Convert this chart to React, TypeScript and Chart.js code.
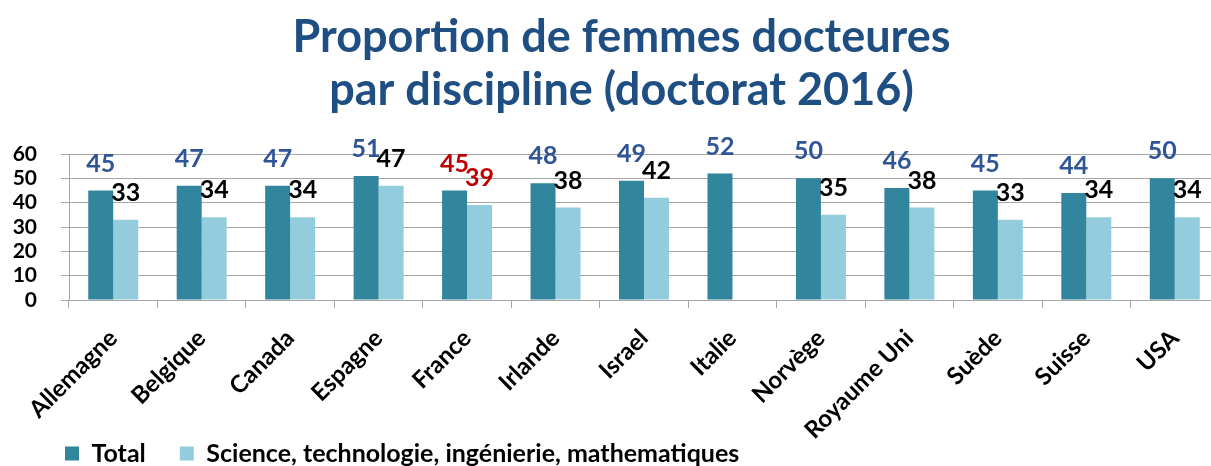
import React, { useEffect, useRef } from "react";
import { Chart, registerables } from "chart.js";

Chart.register(...registerables);

const categories = [
  "Allemagne",
  "Belgique",
  "Canada",
  "Espagne",
  "France",
  "Irlande",
  "Israel",
  "Italie",
  "Norvège",
  "Royaume Uni",
  "Suède",
  "Suisse",
  "USA",
];
const totalValues = [45, 47, 47, 51, 45, 48, 49, 52, 50, 46, 45, 44, 50];
const stemValues = [33, 34, 34, 47, 39, 38, 42, null, 35, 38, 33, 34, 34];
const yMin = 0;
const yMax = 60;
const yStep = 10;
const titleLines = ["Proportion de femmes docteures", "par discipline (doctorat 2016)"];
const seriesNames = ["Total", "Science, technologie, ingénierie, mathematiques"];
const highlightedCategory = "France";

const FONT = "Lato, 'Open Sans', sans-serif";
const GRID = "#A6A6A6";

const valueLabels = {
  id: "valueLabels",
  afterDatasetsDraw(chart: any) {
    const ctx = chart.ctx;
    ctx.save();
    ctx.font = `bold 25px ${FONT}`;
    ctx.textAlign = "center";
    ctx.textBaseline = "middle";
    chart.data.datasets.forEach((ds: any, di: number) => {
      const meta = chart.getDatasetMeta(di);
      meta.data.forEach((bar: any, i: number) => {
        const v = ds.data[i];
        if (v == null) return;
        const hl = categories[i] === highlightedCategory;
        ctx.fillStyle = hl ? "#C00000" : di === 0 ? "#2F5597" : "#000000";
        ctx.fillText(String(v), bar.x, bar.y - 27);
      });
    });
    ctx.restore();
  },
};

// Small layout adjustments: shift legend/title horizontally and let the
// rotated category labels run below the axis box (as in the original).
const layoutTweaks = {
  id: "layoutTweaks",
  afterLayout(chart: any) {
    if (chart.legend) chart.legend.left = 31;
    if (chart.titleBlock) chart.titleBlock.left = 24;
    const x = chart.scales.x;
    if (x) x.bottom = chart.height;
  },
};

export default function App() {
  const ref = useRef<HTMLCanvasElement | null>(null);

  useEffect(() => {
    if (!ref.current) return;
    const chart = new Chart(ref.current, {
      type: "bar",
      data: {
        labels: categories,
        datasets: [
          {
            label: seriesNames[0],
            data: totalValues,
            backgroundColor: "#31859C",
            borderWidth: 0,
            categoryPercentage: 0.565,
            barPercentage: 1,
          },
          {
            label: seriesNames[1],
            data: stemValues,
            backgroundColor: "#93CDDD",
            borderWidth: 0,
            categoryPercentage: 0.565,
            barPercentage: 1,
          },
        ],
      },
      options: {
        responsive: false,
        animation: false,
        layout: { padding: { left: 0, right: 21, top: 0, bottom: 0 } },
        plugins: {
          title: {
            display: true,
            text: titleLines,
            color: "#1F4E82",
            font: { family: FONT, size: 45, weight: "bold", lineHeight: 1.178 },
            padding: { top: 10.5, bottom: 37.5 },
          },
          legend: {
            position: "bottom",
            align: "start",
            labels: {
              boxWidth: 14,
              boxHeight: 14,
              padding: 34,
              color: "#000000",
              font: { family: FONT, size: 25, weight: "bold" },
            },
          },
          tooltip: { enabled: false },
        },
        scales: {
          x: {
            type: "category",
            offset: true,
            grid: {
              offset: true,
              drawOnChartArea: false,
              drawTicks: true,
              tickLength: 8,
              color: GRID,
            },
            border: { color: GRID },
            ticks: {
              autoSkip: false,
              minRotation: 45,
              maxRotation: 45,
              padding: 16,
              color: "#000000",
              font: { family: FONT, size: 24, weight: "bold" },
            },
            afterFit: (s: any) => {
              s.height = 107;
            },
          },
          y: {
            min: yMin,
            max: yMax,
            grid: { color: GRID, tickLength: 8, drawTicks: true },
            border: { color: GRID },
            ticks: {
              stepSize: yStep,
              autoSkip: false,
              padding: 24,
              color: "#000000",
              font: { family: FONT, size: 21, weight: "bold" },
            },
            afterFit: (s: any) => {
              s.width = 69;
            },
          },
        },
      },
      plugins: [valueLabels, layoutTweaks],
    });
    return () => chart.destroy();
  }, []);

  return (
    <div
      style={{
        position: "fixed",
        left: 0,
        top: 0,
        width: 1211,
        height: 466,
        overflow: "hidden",
        background: "#ffffff",
      }}
    >
      <canvas ref={ref} width={1240} height={476} style={{ width: 1240, height: 476, display: "block" }} />
    </div>
  );
}
